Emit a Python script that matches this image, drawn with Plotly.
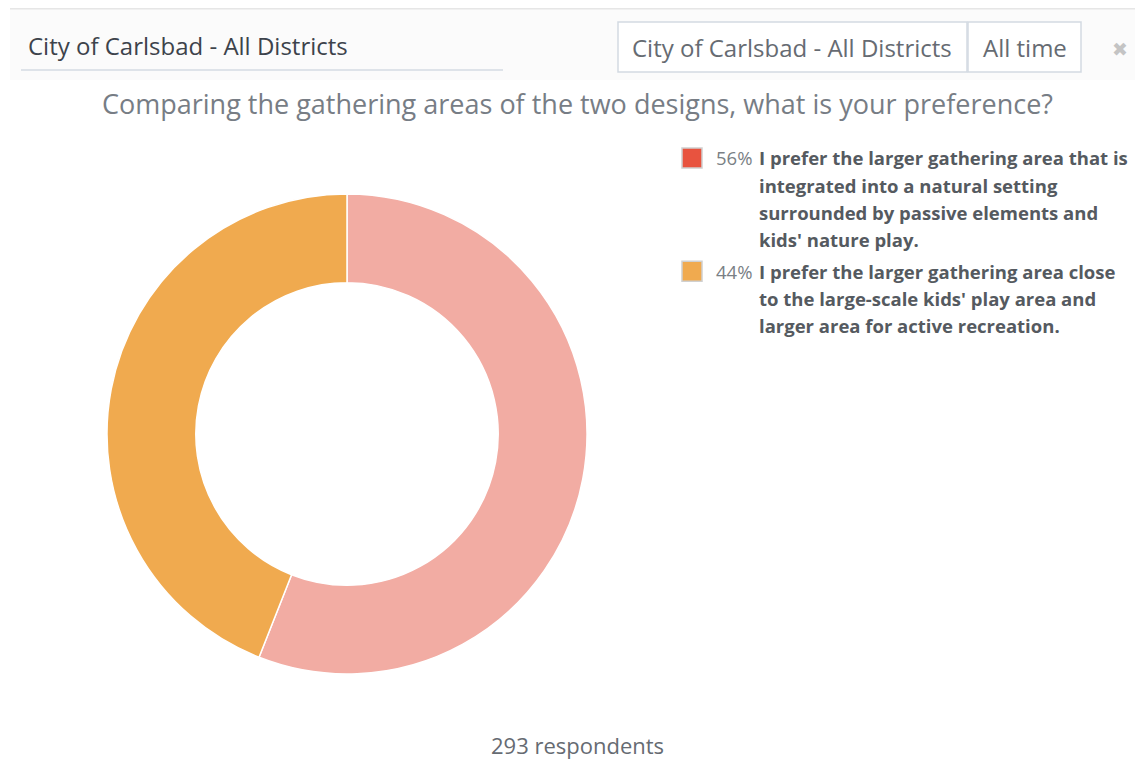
"""Donut chart of survey responses on gathering-area preference."""
import plotly.graph_objects as go

W, H = 1143, 759
OFF = 8  # page body margin

# data
answers = [
    "I prefer the larger gathering area that is integrated into a natural setting surrounded by passive elements and kids' nature play.",
    "I prefer the larger gathering area close to the large-scale kids' play area and larger area for active recreation.",
]
answer_lines = [
    ["I prefer the larger gathering area that is", "integrated into a natural setting",
     "surrounded by passive elements and", "kids' nature play."],
    ["I prefer the larger gathering area close", "to the large-scale kids' play area and",
     "larger area for active recreation."],
]
counts = [164, 129]
respondents = 293
question = "Comparing the gathering areas of the two designs, what is your preference?"
filter_area = "City of Carlsbad - All Districts"
filter_time = "All time"

slice_colors = ["#f2aca3", "#f0aa4f"]
legend_colors = ["#e8533f", "#f0aa4f"]
FONT = "Open Sans, Noto Sans, sans-serif"

FW, FH = W - OFF, H - OFF


def px(x):
    return (x - OFF) / FW


def py(y):
    return 1 - (y - OFF) / FH


fig = go.Figure(go.Pie(
    labels=answers,
    values=counts,
    hole=0.63,
    sort=False,
    direction="clockwise",
    rotation=0,
    textinfo="none",
    marker=dict(colors=slice_colors, line=dict(color="white", width=1.5)),
    domain=dict(x=[px(107), px(587)], y=[py(674), py(194)]),
    showlegend=False,
))

shapes = [
    # header band
    dict(type="rect", xref="paper", yref="paper", x0=px(10), x1=1, y0=py(80), y1=py(8),
         fillcolor="#fbfbfb", line=dict(width=0), layer="below"),
    dict(type="line", xref="paper", yref="paper", x0=px(10), x1=1, y0=py(8), y1=py(8),
         line=dict(color="#e6e6e6", width=3)),
    # search underline
    dict(type="line", xref="paper", yref="paper", x0=px(21), x1=px(503), y0=py(70), y1=py(70),
         line=dict(color="#d5dbe3", width=1.5)),
    # filter buttons
    dict(type="rect", xref="paper", yref="paper", x0=px(618), x1=px(967), y0=py(72), y1=py(22),
         fillcolor="white", line=dict(color="#d3dae2", width=1.5)),
    dict(type="rect", xref="paper", yref="paper", x0=px(968), x1=px(1081), y0=py(72), y1=py(22),
         fillcolor="white", line=dict(color="#d3dae2", width=1.5)),
]

annotations = [
    dict(text=filter_area, x=px(26), y=py(46), xanchor="left", yanchor="middle",
         font=dict(size=24, color="#3d434b")),
    dict(text=filter_area, x=px(792), y=py(47), xanchor="center", yanchor="middle",
         font=dict(size=24, color="#666b72")),
    dict(text=filter_time, x=px(1025), y=py(47), xanchor="center", yanchor="middle",
         font=dict(size=24, color="#666b72")),
    dict(text="✖", x=px(1120), y=py(49), xanchor="center", yanchor="middle",
         font=dict(size=19, color="#c4c4c4")),
    dict(text=question, x=px(577), y=py(103), xanchor="center", yanchor="middle",
         font=dict(size=27, color="#777d85")),
    dict(text=f"{respondents} respondents", x=px(577), y=py(745), xanchor="center", yanchor="middle",
         font=dict(size=22, color="#666b72")),
]

# legend drawn by hand: swatch, percentage, wrapped bold label
total = sum(counts)
top = 158
for lines, n, col in zip(answer_lines, counts, legend_colors):
    shapes.append(dict(type="rect", xref="paper", yref="paper",
                       x0=px(682), x1=px(702), y0=py(top + 10), y1=py(top - 10),
                       fillcolor=col, line=dict(color="#d0d0d0", width=1.5)))
    annotations.append(dict(text=f"{round(100 * n / total)}%", x=px(714), y=py(top),
                            xanchor="left", yanchor="middle",
                            font=dict(size=18.5, color="#7a7f85")))
    for i, line in enumerate(lines):
        annotations.append(dict(text=f"<b>{line}</b>", x=px(757), y=py(top + i * 27.3),
                                xanchor="left", yanchor="middle",
                                font=dict(size=18.5, color="#555a60")))
    top += len(lines) * 27.3 + 4

for a in annotations:
    a.update(xref="paper", yref="paper", showarrow=False)

fig.update_layout(
    width=FW, height=FH,
    margin=dict(l=0, r=0, t=0, b=0),
    paper_bgcolor="white",
    font=dict(family=FONT),
    shapes=shapes,
    annotations=annotations,
)

fig.write_html("out.html")
